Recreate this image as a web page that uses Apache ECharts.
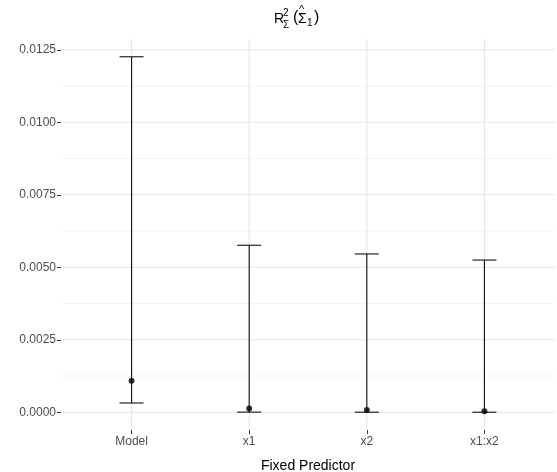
<!DOCTYPE html>
<html>
<head>
<meta charset="utf-8">
<script src="https://cdn.jsdelivr.net/npm/echarts@6/dist/echarts.min.js"></script>
<style>
  html, body { margin: 0; padding: 0; background: #fff; }
  #chart { width: 557px; height: 472px; }
</style>
</head>
<body>
<div id="chart"></div>
<script>
// Fixed predictors and their R² estimates with interval bounds
var categories = ['Model', 'x1', 'x2', 'x1:x2'];
var estimates  = [0.00109, 0.00013, 0.00008, 0.00004];
var lowerBound = [0.00032, 0.000005, 0.000003, 0.000002];
var upperBound = [0.01226, 0.00576, 0.00546, 0.00525];
var yTicks = [0, 0.0025, 0.005, 0.0075, 0.01, 0.0125];
var yMinorGrid = [0.00125, 0.00375, 0.00625, 0.00875, 0.01125];

var positions = categories.map(function (c, i) { return i + 1; });

// ggplot-style padding: 5% of the data range on y, 0.6 units on x
var xMin = 0.4, xMax = 4.6;
var yLo = Math.min.apply(null, lowerBound);
var yHi = Math.max.apply(null, upperBound);
var pad = (yHi - yLo) * 0.05;
var yMin = yLo - pad, yMax = yHi + pad;

var labelFont = 'Liberation Sans, Arial, sans-serif';

var errorData = positions.map(function (p, i) { return [p, lowerBound[i], upperBound[i]]; });
var pointData = positions.map(function (p, i) { return [p, estimates[i]]; });

// grid line records: [orientation (0 = horizontal, 1 = vertical), value, weight (1 major, 0 minor)]
var gridData = []
  .concat(yMinorGrid.map(function (v) { return [0, v, 0]; }))
  .concat(yTicks.map(function (v) { return [0, v, 1]; }))
  .concat(positions.map(function (v) { return [1, v, 1]; }));

function txt(str, x, y, size) {
  return {
    type: 'text', left: x, top: y, silent: true,
    style: { text: str, fontSize: size, fontFamily: labelFont, fill: '#000' }
  };
}

var chart = echarts.init(document.getElementById('chart'), null, { renderer: 'canvas' });

chart.setOption({
  animation: false,
  backgroundColor: '#ffffff',
  // plot title: R²_Σ (Σ̂₁)
  graphic: [
    txt('R', 274, 12, 14),
    txt('2', 283, 8, 10),
    txt('Σ', 283, 20, 10),
    txt('(', 293, 10, 16),
    txt('^', 299, 4, 11),
    txt('Σ', 298, 12, 14),
    txt('1', 307, 18, 10),
    txt(')', 314, 10, 16)
  ],
  grid: { left: 61, right: 2, top: 39, bottom: 42, containLabel: false, outerBoundsMode: 'none' },
  xAxis: {
    type: 'value',
    min: xMin,
    max: xMax,
    name: 'Fixed Predictor',
    nameLocation: 'middle',
    nameGap: 29,
    nameTextStyle: { fontSize: 14, fontFamily: labelFont, color: '#000' },
    axisLine: { show: false, onZero: false },
    splitLine: { show: false },
    axisTick: { show: true, customValues: positions, length: 4, lineStyle: { color: '#333', width: 1 } },
    axisLabel: {
      customValues: positions,
      margin: 6,
      fontSize: 12,
      fontFamily: labelFont,
      color: '#4d4d4d',
      formatter: function (v) { return categories[Math.round(v) - 1] || ''; }
    }
  },
  yAxis: {
    type: 'value',
    min: yMin,
    max: yMax,
    axisLine: { show: false, onZero: false },
    splitLine: { show: false },
    axisTick: { show: true, customValues: yTicks, length: 4, lineStyle: { color: '#333', width: 1 } },
    axisLabel: {
      customValues: yTicks,
      margin: 5,
      fontSize: 12,
      fontFamily: labelFont,
      color: '#4d4d4d',
      formatter: function (v) { return v.toFixed(4); }
    }
  },
  series: [
    {
      // panel grid lines
      type: 'custom',
      silent: true,
      z: 0,
      clip: true,
      data: gridData,
      renderItem: function (params, api) {
        var vertical = api.value(0) === 1;
        var v = api.value(1);
        var major = api.value(2) === 1;
        var a = vertical ? api.coord([v, yMin]) : api.coord([xMin, v]);
        var b = vertical ? api.coord([v, yMax]) : api.coord([xMax, v]);
        return {
          type: 'line',
          shape: { x1: a[0], y1: a[1], x2: b[0], y2: b[1] },
          style: { stroke: major ? '#e6e6e6' : '#f0f0f0', lineWidth: major ? 1.1 : 0.8 }
        };
      }
    },
    {
      // interval bars with end caps
      type: 'custom',
      z: 10,
      data: errorData,
      renderItem: function (params, api) {
        var x = api.value(0);
        var lo = api.coord([x, api.value(1)]);
        var hi = api.coord([x, api.value(2)]);
        var half = 12;
        var style = { stroke: '#111', lineWidth: 1.1 };
        return {
          type: 'group',
          children: [
            { type: 'line', shape: { x1: lo[0], y1: lo[1], x2: hi[0], y2: hi[1] }, style: style },
            { type: 'line', shape: { x1: hi[0] - half, y1: hi[1], x2: hi[0] + half, y2: hi[1] }, style: style },
            { type: 'line', shape: { x1: lo[0] - half, y1: lo[1], x2: lo[0] + half, y2: lo[1] }, style: style }
          ]
        };
      }
    },
    {
      type: 'scatter',
      z: 11,
      data: pointData,
      symbol: 'circle',
      symbolSize: 6,
      itemStyle: { color: '#000' }
    }
  ]
});
</script>
</body>
</html>
